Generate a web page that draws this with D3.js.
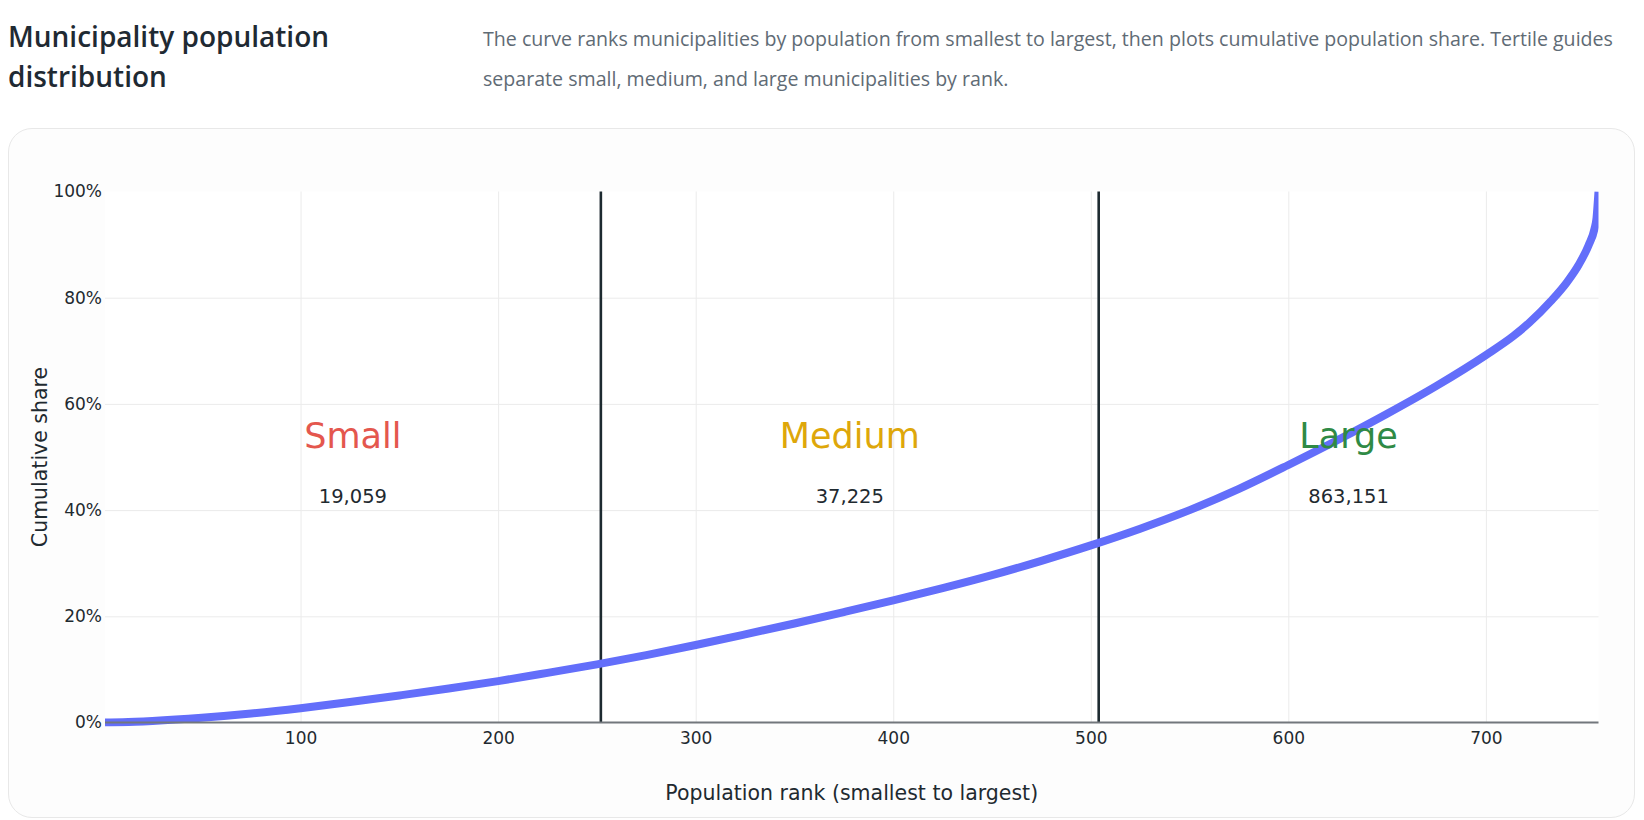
<!DOCTYPE html>
<html>
<head>
<meta charset="utf-8">
<script src="https://cdn.jsdelivr.net/npm/d3@7"></script>
<style>
  body { margin: 0; background: #ffffff; width: 1644px; height: 820px; overflow: hidden; position: relative; }
  .title { position: absolute; left: 8px; top: 16px; width: 440px; font-family: "Open Sans", "Noto Sans", sans-serif;
           font-weight: 600; font-size: 28px; line-height: 40px; color: #1f2a33; }
  .desc { position: absolute; left: 483px; top: 19px; width: 1155px; font-family: "Open Sans", "Noto Sans", sans-serif;
          font-size: 19.6px; line-height: 40px; color: #5f6b75; }
  .card { position: absolute; left: 8px; top: 128px; width: 1625px; height: 688px; border: 1px solid #e8e8e8;
          border-radius: 24px; background: #fdfdfd; }
  #chart { position: absolute; left: 0; top: 0; }
</style>
</head>
<body>
<div class="title">Municipality population distribution</div>
<div class="desc">The curve ranks municipalities by population from smallest to largest, then plots cumulative population share. Tertile guides separate small, medium, and large municipalities by rank.</div>
<div class="card"></div>
<div id="chart"></div>
<script>
// cumulative share curve (%)
const ranks = [1, 10, 25, 50, 75, 100, 125, 150, 175, 200, 225, 250, 275, 300, 325, 350, 375, 400, 425, 450,
    475, 500, 525, 550, 575, 600, 625, 650, 675, 700, 714, 722, 733, 741, 747, 752, 755, 756, 757];
const shares = [0, 0.06, 0.3, 0.9, 1.7, 2.7, 3.85, 5.1, 6.4, 7.8, 9.35, 10.95, 12.7, 14.6, 16.6, 18.65, 20.8, 23.0, 25.3, 27.75,
    30.45, 33.35, 36.5, 40.0, 44.0, 48.5, 53.2, 58.15, 63.4, 69.2, 72.8, 75.3, 79.4, 82.9, 86.2, 89.9, 93.0, 95.0, 100];

const tertileCuts = [252, 504];
const tiers = ['Small', 'Medium', 'Large'];
const tierValues = ['19,059', '37,225', '863,151'];
const tierColors = ['#e4574e', '#dea70a', '#2f8a45'];
const xTicks = [100, 200, 300, 400, 500, 600, 700];
const yTicks = [0, 20, 40, 60, 80, 100];

const W = 1644, H = 820;
const M = { left: 105, right: 45.5, top: 191.5, bottom: 97.5 };
const iw = W - M.left - M.right;
const ih = H - M.top - M.bottom;
const FONT = '"DejaVu Sans", Verdana, sans-serif';
const INK = '#1f2a30';

const svg = d3.select('#chart').append('svg').attr('width', W).attr('height', H);
const g = svg.append('g').attr('transform', `translate(${M.left},${M.top})`);

const x = d3.scaleLinear().domain([1, 757]).range([0, iw]);
const y = d3.scaleLinear().domain([0, 100]).range([ih, 0]);

g.append('rect').attr('width', iw).attr('height', ih).attr('fill', '#ffffff');

// Gridlines
g.append('g')
    .call(d3.axisLeft(y).tickValues(yTicks.slice(1, -1)).tickSize(-iw).tickFormat(''))
    .call((sel) => sel.selectAll('line').attr('stroke', '#ebebeb'))
    .call((sel) => sel.select('.domain').remove());
g.append('g').attr('transform', `translate(0,${ih})`)
    .call(d3.axisBottom(x).tickValues(xTicks).tickSize(-ih).tickFormat(''))
    .call((sel) => sel.selectAll('line').attr('stroke', '#ebebeb'))
    .call((sel) => sel.select('.domain').remove());

// Tertile guides
g.selectAll('line.cut').data(tertileCuts).enter().append('line')
    .attr('class', 'cut')
    .attr('x1', (d) => x(d)).attr('x2', (d) => x(d))
    .attr('y1', 0).attr('y2', ih)
    .attr('stroke', '#1d2a30').attr('stroke-width', 2.6);

// Curve
svg.append('clipPath').attr('id', 'clip')
    .append('rect').attr('width', iw).attr('height', ih + 4);
const line = d3.line()
    .x((d, i) => x(ranks[i]))
    .y((d) => y(d))
    .curve(d3.curveMonotoneX);
g.append('path').datum(shares)
    .attr('clip-path', 'url(#clip)')
    .attr('d', line)
    .attr('fill', 'none')
    .attr('stroke', '#636efa')
    .attr('stroke-width', 8);

// Axes
const styleAxis = (sel) => {
    sel.select('.domain').remove();
    sel.selectAll('text').attr('font-family', FONT).attr('font-size', 17).attr('fill', INK);
};
g.append('g').attr('transform', `translate(0,${ih})`)
    .call(d3.axisBottom(x).tickValues(xTicks).tickSize(0).tickPadding(9))
    .call(styleAxis);
g.append('g')
    .call(d3.axisLeft(y).tickValues(yTicks).tickSize(0).tickPadding(3).tickFormat((d) => d + '%'))
    .call(styleAxis);
g.append('line').attr('x1', 0).attr('x2', iw).attr('y1', ih).attr('y2', ih)
    .attr('stroke', '#72777c').attr('stroke-width', 2);

// Tier labels
const bounds = [1, ...tertileCuts, 757];
const mids = tiers.map((_, i) => (bounds[i] + bounds[i + 1]) / 2);
g.selectAll('text.tier').data(tiers).enter().append('text')
    .attr('class', 'tier')
    .attr('x', (d, i) => x(mids[i]))
    .attr('y', y(54))
    .attr('dy', '0.36em')
    .attr('text-anchor', 'middle')
    .attr('font-family', FONT).attr('font-size', 35)
    .attr('fill', (d, i) => tierColors[i])
    .text((d) => d);
g.selectAll('text.tval').data(tierValues).enter().append('text')
    .attr('class', 'tval')
    .attr('x', (d, i) => x(mids[i]))
    .attr('y', y(42.7))
    .attr('dy', '0.36em')
    .attr('text-anchor', 'middle')
    .attr('font-family', FONT).attr('font-size', 19.5)
    .attr('fill', INK)
    .text((d) => d);

// Axis titles
svg.append('text')
    .attr('x', M.left + iw / 2).attr('y', 793).attr('dy', '0.36em')
    .attr('text-anchor', 'middle')
    .attr('font-family', FONT).attr('font-size', 20.5).attr('fill', INK)
    .text('Population rank (smallest to largest)');
svg.append('text')
    .attr('transform', `translate(40,${M.top + ih / 2}) rotate(-90)`)
    .attr('dy', '0.36em')
    .attr('text-anchor', 'middle')
    .attr('font-family', FONT).attr('font-size', 20.5).attr('fill', INK)
    .text('Cumulative share');
</script>
</body>
</html>
